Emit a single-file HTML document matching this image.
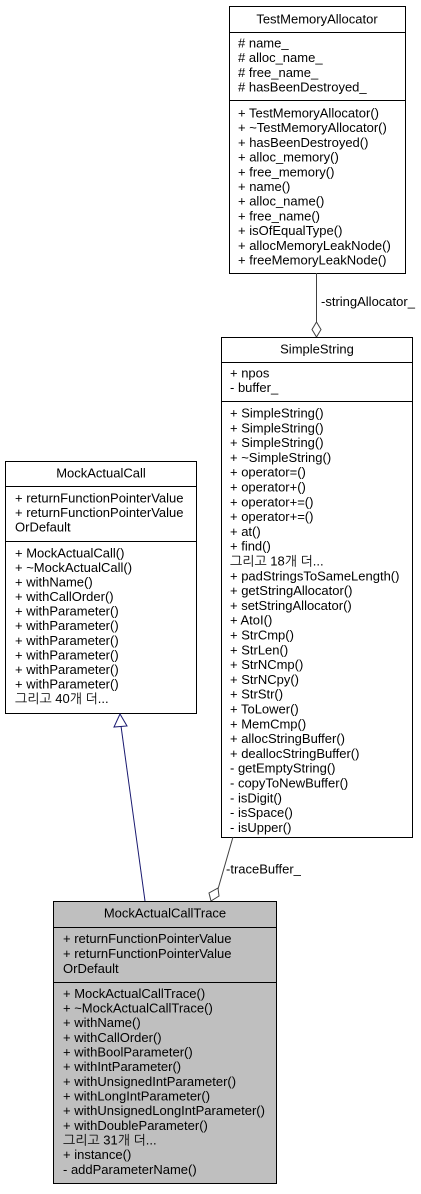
<!DOCTYPE html>
<html><head><meta charset="utf-8"><style>
html,body{margin:0;padding:0;background:#fff;}
svg text{font-family:"Liberation Sans","NanumGothic","Noto Sans CJK KR",sans-serif;font-size:13px;fill:#000;}
</style></head><body>
<svg width="421" height="1189" xmlns="http://www.w3.org/2000/svg">
<!-- TestMemoryAllocator -->
<rect x="229.5" y="6.5" width="176" height="267" fill="#fff" stroke="#000"/>
<line x1="229.5" y1="32.5" x2="405.5" y2="32.5" stroke="#000"/>
<line x1="229.5" y1="100.5" x2="405.5" y2="100.5" stroke="#000"/>
<text x="317" y="23.5" text-anchor="middle">TestMemoryAllocator</text>
<text x="238" y="47.5"># name_</text>
<text x="238" y="62.2"># alloc_name_</text>
<text x="238" y="76.9"># free_name_</text>
<text x="238" y="91.6"># hasBeenDestroyed_</text>
<text x="238" y="117.5">+ TestMemoryAllocator()</text>
<text x="238" y="132.2">+ ~TestMemoryAllocator()</text>
<text x="238" y="146.9">+ hasBeenDestroyed()</text>
<text x="238" y="161.6">+ alloc_memory()</text>
<text x="238" y="176.3">+ free_memory()</text>
<text x="238" y="191">+ name()</text>
<text x="238" y="205.7">+ alloc_name()</text>
<text x="238" y="220.4">+ free_name()</text>
<text x="238" y="235.1">+ isOfEqualType()</text>
<text x="238" y="249.8">+ allocMemoryLeakNode()</text>
<text x="238" y="264.5">+ freeMemoryLeakNode()</text>
<line x1="316.5" y1="273" x2="316.5" y2="322" stroke="#404040"/>
<polygon points="316.5,322 321,329.5 316.5,337 312,329.5" fill="#fff" stroke="#404040"/>
<text x="321" y="306">-stringAllocator_</text>

<!-- SimpleString -->
<rect x="221.5" y="337.5" width="191" height="500" fill="#fff" stroke="#000"/>
<line x1="221.5" y1="362.5" x2="412.5" y2="362.5" stroke="#000"/>
<line x1="221.5" y1="401.5" x2="412.5" y2="401.5" stroke="#000"/>
<text x="317" y="353.5" text-anchor="middle">SimpleString</text>
<text x="230" y="377.5">+ npos</text>
<text x="230" y="392.2">- buffer_</text>
<text x="230" y="417.5">+ SimpleString()</text>
<text x="230" y="432.3">+ SimpleString()</text>
<text x="230" y="447.1">+ SimpleString()</text>
<text x="230" y="461.9">+ ~SimpleString()</text>
<text x="230" y="476.7">+ operator=()</text>
<text x="230" y="491.5">+ operator+()</text>
<text x="230" y="506.3">+ operator+=()</text>
<text x="230" y="521.1">+ operator+=()</text>
<text x="230" y="535.9">+ at()</text>
<text x="230" y="550.7">+ find()</text>
<text x="230" y="565.5">그리고 18개 더...</text>
<text x="230" y="580.3">+ padStringsToSameLength()</text>
<text x="230" y="595.1">+ getStringAllocator()</text>
<text x="230" y="609.9">+ setStringAllocator()</text>
<text x="230" y="624.7">+ AtoI()</text>
<text x="230" y="639.5">+ StrCmp()</text>
<text x="230" y="654.3">+ StrLen()</text>
<text x="230" y="669.1">+ StrNCmp()</text>
<text x="230" y="683.9">+ StrNCpy()</text>
<text x="230" y="698.7">+ StrStr()</text>
<text x="230" y="713.5">+ ToLower()</text>
<text x="230" y="728.3">+ MemCmp()</text>
<text x="230" y="743.1">+ allocStringBuffer()</text>
<text x="230" y="757.9">+ deallocStringBuffer()</text>
<text x="230" y="772.7">- getEmptyString()</text>
<text x="230" y="787.5">- copyToNewBuffer()</text>
<text x="230" y="802.3">- isDigit()</text>
<text x="230" y="817.1">- isSpace()</text>
<text x="230" y="831.9">- isUpper()</text>

<!-- MockActualCall -->
<rect x="5.5" y="461.5" width="191" height="252" fill="#fff" stroke="#000"/>
<line x1="5.5" y1="486.5" x2="196.5" y2="486.5" stroke="#000"/>
<line x1="5.5" y1="541.5" x2="196.5" y2="541.5" stroke="#000"/>
<text x="101" y="477.5" text-anchor="middle">MockActualCall</text>
<text x="15" y="502.5">+ returnFunctionPointerValue</text>
<text x="15" y="517">+ returnFunctionPointerValue</text>
<text x="15" y="531.5">OrDefault</text>
<text x="15" y="557.5">+ MockActualCall()</text>
<text x="15" y="572">+ ~MockActualCall()</text>
<text x="15" y="586.6">+ withName()</text>
<text x="15" y="601.1">+ withCallOrder()</text>
<text x="15" y="615.7">+ withParameter()</text>
<text x="15" y="630.2">+ withParameter()</text>
<text x="15" y="644.8">+ withParameter()</text>
<text x="15" y="659.4">+ withParameter()</text>
<text x="15" y="673.9">+ withParameter()</text>
<text x="15" y="688.5">+ withParameter()</text>
<text x="15" y="703">그리고 40개 더...</text>

<!-- inheritance -->
<line x1="145" y1="901" x2="121" y2="726" stroke="#191970"/>
<polygon points="120,714 127,726 114,727" fill="#fff" stroke="#191970"/>

<!-- traceBuffer -->
<line x1="233" y1="837" x2="218" y2="889" stroke="#404040"/>
<polygon points="218,888 219,896 211,901 209,893" fill="#fff" stroke="#404040"/>
<text x="226" y="873.5">-traceBuffer_</text>

<!-- MockActualCallTrace -->
<rect x="53.5" y="901.5" width="223" height="282" fill="#bfbfbf" stroke="#000"/>
<line x1="53.5" y1="927.5" x2="276.5" y2="927.5" stroke="#000"/>
<line x1="53.5" y1="982.5" x2="276.5" y2="982.5" stroke="#000"/>
<text x="165" y="917.5" text-anchor="middle">MockActualCallTrace</text>
<text x="63" y="942.8">+ returnFunctionPointerValue</text>
<text x="63" y="957.8">+ returnFunctionPointerValue</text>
<text x="63" y="972.8">OrDefault</text>
<text x="63" y="997.8">+ MockActualCallTrace()</text>
<text x="63" y="1012.5">+ ~MockActualCallTrace()</text>
<text x="63" y="1027.1">+ withName()</text>
<text x="63" y="1041.8">+ withCallOrder()</text>
<text x="63" y="1056.5">+ withBoolParameter()</text>
<text x="63" y="1071.2">+ withIntParameter()</text>
<text x="63" y="1085.8">+ withUnsignedIntParameter()</text>
<text x="63" y="1100.5">+ withLongIntParameter()</text>
<text x="63" y="1115.2">+ withUnsignedLongIntParameter()</text>
<text x="63" y="1129.8">+ withDoubleParameter()</text>
<text x="63" y="1144.5">그리고 31개 더...</text>
<text x="63" y="1159.2">+ instance()</text>
<text x="63" y="1173.8">- addParameterName()</text>
</svg>
</body></html>
